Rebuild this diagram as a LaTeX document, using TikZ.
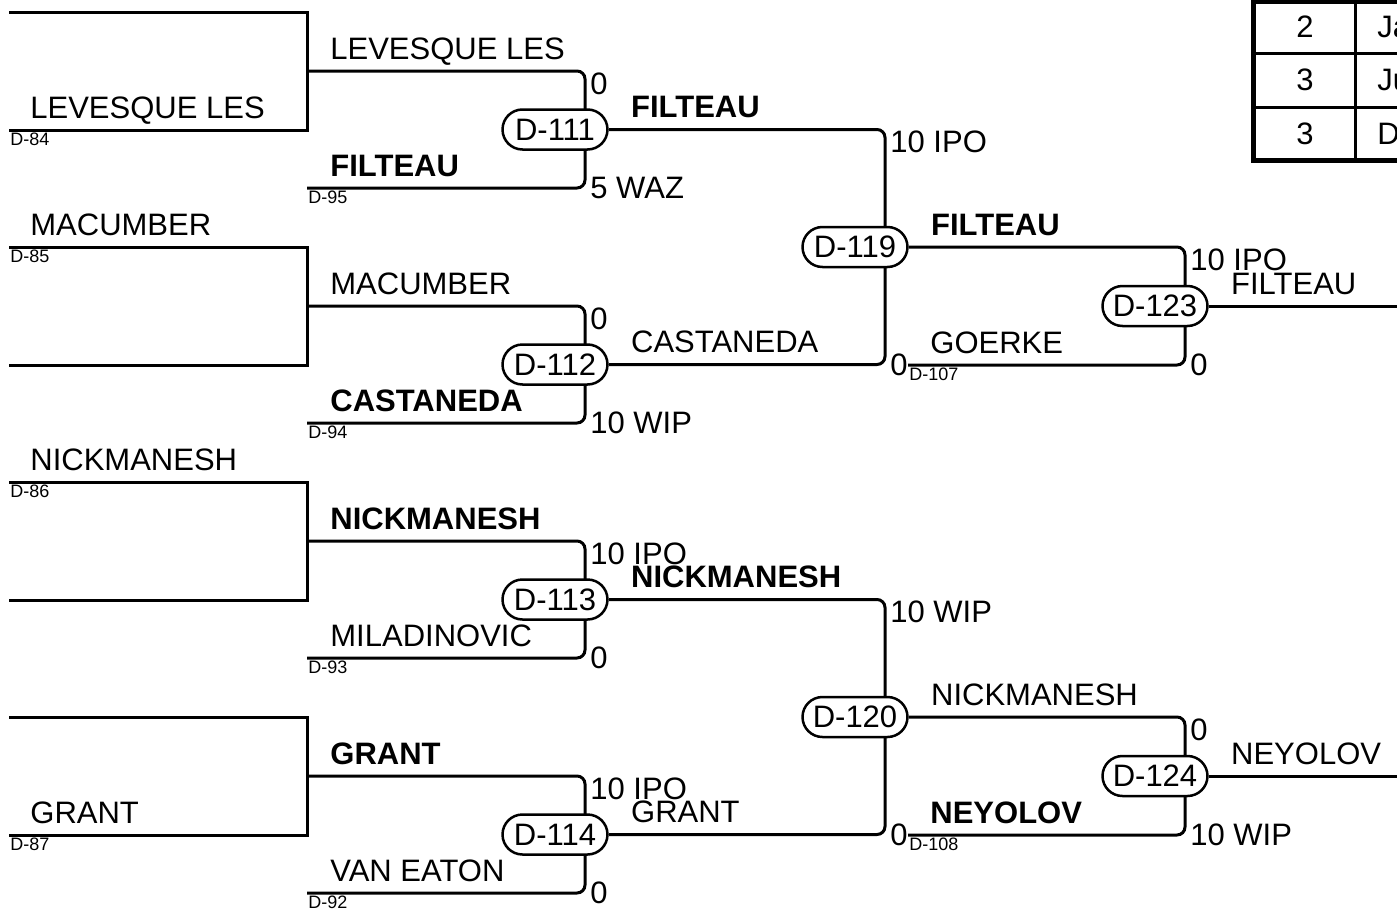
\documentclass[tikz,border=0pt]{standalone}
\usepackage{fontspec}
\setmainfont{Liberation Sans}
\usetikzlibrary{positioning,calc}

\begin{document}
\begin{tikzpicture}[x=0.5pt,y=-0.5pt,
    txt/.style={inner sep=0pt, font=\fontsize{15.5pt}{18pt}\selectfont},
    wire/.style={line width=1.5pt},
    roundwire/.style={wire, rounded corners=4pt},
    pill/.style={txt, draw, fill=white, line width=1.25pt, rounded corners=10pt,
                 minimum width=52.5pt, minimum height=20pt},
    player/.style={txt, anchor=base west},
    winner/.style={player, font=\fontsize{15.5pt}{18pt}\selectfont\bfseries},
    seed/.style={inner sep=0pt, anchor=north west, font=\fontsize{9pt}{10pt}\selectfont},
    scoretop/.style={txt, anchor=north west},
    scorebot/.style={txt, anchor=west},
  ]
  \useasboundingbox (0,0) rectangle (1397,910);
  \clip (0,0) rectangle (1397,910);

  % first round
  \foreach \n/\t/\b in {1/12/130, 2/247/365, 3/482/600, 4/717/835}{
    \coordinate (top\n) at (9,\t);
    \coordinate (bot\n) at (9,\b);
    \coordinate (q\n) at (307,{(\t+\b)/2});
    \draw[wire] (top\n) -| (q\n) |- (bot\n);
  }
  \foreach \n/\y in {1/188, 2/423, 3/658, 4/893}
    \coordinate (e\n) at (307,\y);
  \coordinate (g1) at (908,365);
  \coordinate (g2) at (908,835);

  % junctions
  \coordinate (j111) at (585,129.5);
  \coordinate (j112) at (585,364.5);
  \coordinate (j113) at (585,599.5);
  \coordinate (j114) at (585,834.5);
  \coordinate (j119) at (885,247);
  \coordinate (j120) at (885,717);
  \coordinate (j123) at (1185,306);
  \coordinate (j124) at (1185,776);

  \draw[roundwire] (q1) -| (j111) (e1) -| (j111);
  \draw[roundwire] (q2) -| (j112) (e2) -| (j112);
  \draw[roundwire] (q3) -| (j113) (e3) -| (j113);
  \draw[roundwire] (q4) -| (j114) (e4) -| (j114);
  \node[pill] (m111) at ($(j111)+(-30,0)$) {D-111};
  \node[pill] (m112) at ($(j112)+(-30,0)$) {D-112};
  \node[pill] (m113) at ($(j113)+(-30,0)$) {D-113};
  \node[pill] (m114) at ($(j114)+(-30,0)$) {D-114};

  \draw[roundwire] (m111) -| (j119) (m112) -| (j119);
  \draw[roundwire] (m113) -| (j120) (m114) -| (j120);
  \node[pill] (m119) at ($(j119)+(-30,0)$) {D-119};
  \node[pill] (m120) at ($(j120)+(-30,0)$) {D-120};

  \draw[roundwire] (m119) -| (j123) (g1) -| (j123);
  \draw[roundwire] (m120) -| (j124) (g2) -| (j124);
  \node[pill] (m123) at ($(j123)+(-30,0)$) {D-123};
  \node[pill] (m124) at ($(j124)+(-30,0)$) {D-124};

  \coordinate (o1) at (1397,306);
  \coordinate (o2) at (1397,776);
  \draw[wire] (m123) -- (o1);
  \draw[wire] (m124) -- (o2);

  % names
  \node[player] (p1) at ($(bot1)+(21,-12)$) {LEVESQUE LES};
  \node[player] (p2) at ($(top2)+(21,-12)$) {MACUMBER};
  \node[player] (p3) at ($(top3)+(21,-12)$) {NICKMANESH};
  \node[player] (p4) at ($(bot4)+(21,-12)$) {GRANT};
  \node[player] (p5) at ($(q1)+(23,-12)$) {LEVESQUE LES};
  \node[winner] (p6) at ($(e1)+(23,-12)$) {FILTEAU};
  \node[player] (p7) at ($(q2)+(23,-12)$) {MACUMBER};
  \node[winner] (p8) at ($(e2)+(23,-12)$) {CASTANEDA};
  \node[winner] (p9) at ($(q3)+(23,-12)$) {NICKMANESH};
  \node[player] (p10) at ($(e3)+(23,-12)$) {MILADINOVIC};
  \node[winner] (p11) at ($(q4)+(23,-12)$) {GRANT};
  \node[player] (p12) at ($(e4)+(23,-12)$) {VAN EATON};
  \node[winner] (p13) at ($(m111.east)+(22,-12)$) {FILTEAU};
  \node[player] (p14) at ($(m112.east)+(22,-12)$) {CASTANEDA};
  \node[winner] (p15) at ($(m113.east)+(22,-12)$) {NICKMANESH};
  \node[player] (p16) at ($(m114.east)+(22,-12)$) {GRANT};
  \node[winner] (p17) at ($(m119.east)+(22,-12)$) {FILTEAU};
  \node[player] (p18) at ($(g1)+(22,-12)$) {GOERKE};
  \node[player] (p19) at ($(m120.east)+(22,-12)$) {NICKMANESH};
  \node[winner] (p20) at ($(g2)+(22,-12)$) {NEYOLOV};
  \node[player] (p21) at ($(m123.east)+(22,-12)$) {FILTEAU};
  \node[player] (p22) at ($(m124.east)+(22,-12)$) {NEYOLOV};

  % match numbers under the lines
  \foreach \c/\d in {bot1/84, top2/85, top3/86, bot4/87, e1/95, e2/94, e3/93, e4/92, g1/107, g2/108}
    \node[seed] (d\d) at ($(\c)+(1,3)$) {D-\d};

  % scores
  \foreach \c/\j/\s in {q1/j111/0, q2/j112/0, q3/j113/10 IPO, q4/j114/10 IPO,
                        m111/j119/10 IPO, m113/j120/10 WIP, m119/j123/10 IPO, m120/j124/0}
    \node[scoretop] (st\j) at ($(\c -| \j)+(5,1)$) {\s};
  \foreach \c/\j/\s in {e1/j111/5 WAZ, e2/j112/10 WIP, e3/j113/0, e4/j114/0,
                        m112/j119/0, m114/j120/0, g1/j123/0, g2/j124/10 WIP}
    \node[scorebot] (sb\j) at ($(\c -| \j)+(5,0)$) {\s};

  % table
  \draw[line width=1.5pt] (1253,53.5) -- (1397,53.5) (1253,107) -- (1397,107)
    (1355,1) -- (1355,160);
  \draw[line width=2.5pt] (1397,1) -- (1253,1) -- (1253,160) -- (1397,160);
  \foreach \r/\y/\a/\b in {1/27/2/Ja, 2/80/3/Ju, 3/133.5/3/D}{
    \node[txt] (ta\r) at (1305,\y) {\a};
    \node[txt, anchor=west] (tb\r) at (1377,\y) {\b};
  }
\end{tikzpicture}
\end{document}
